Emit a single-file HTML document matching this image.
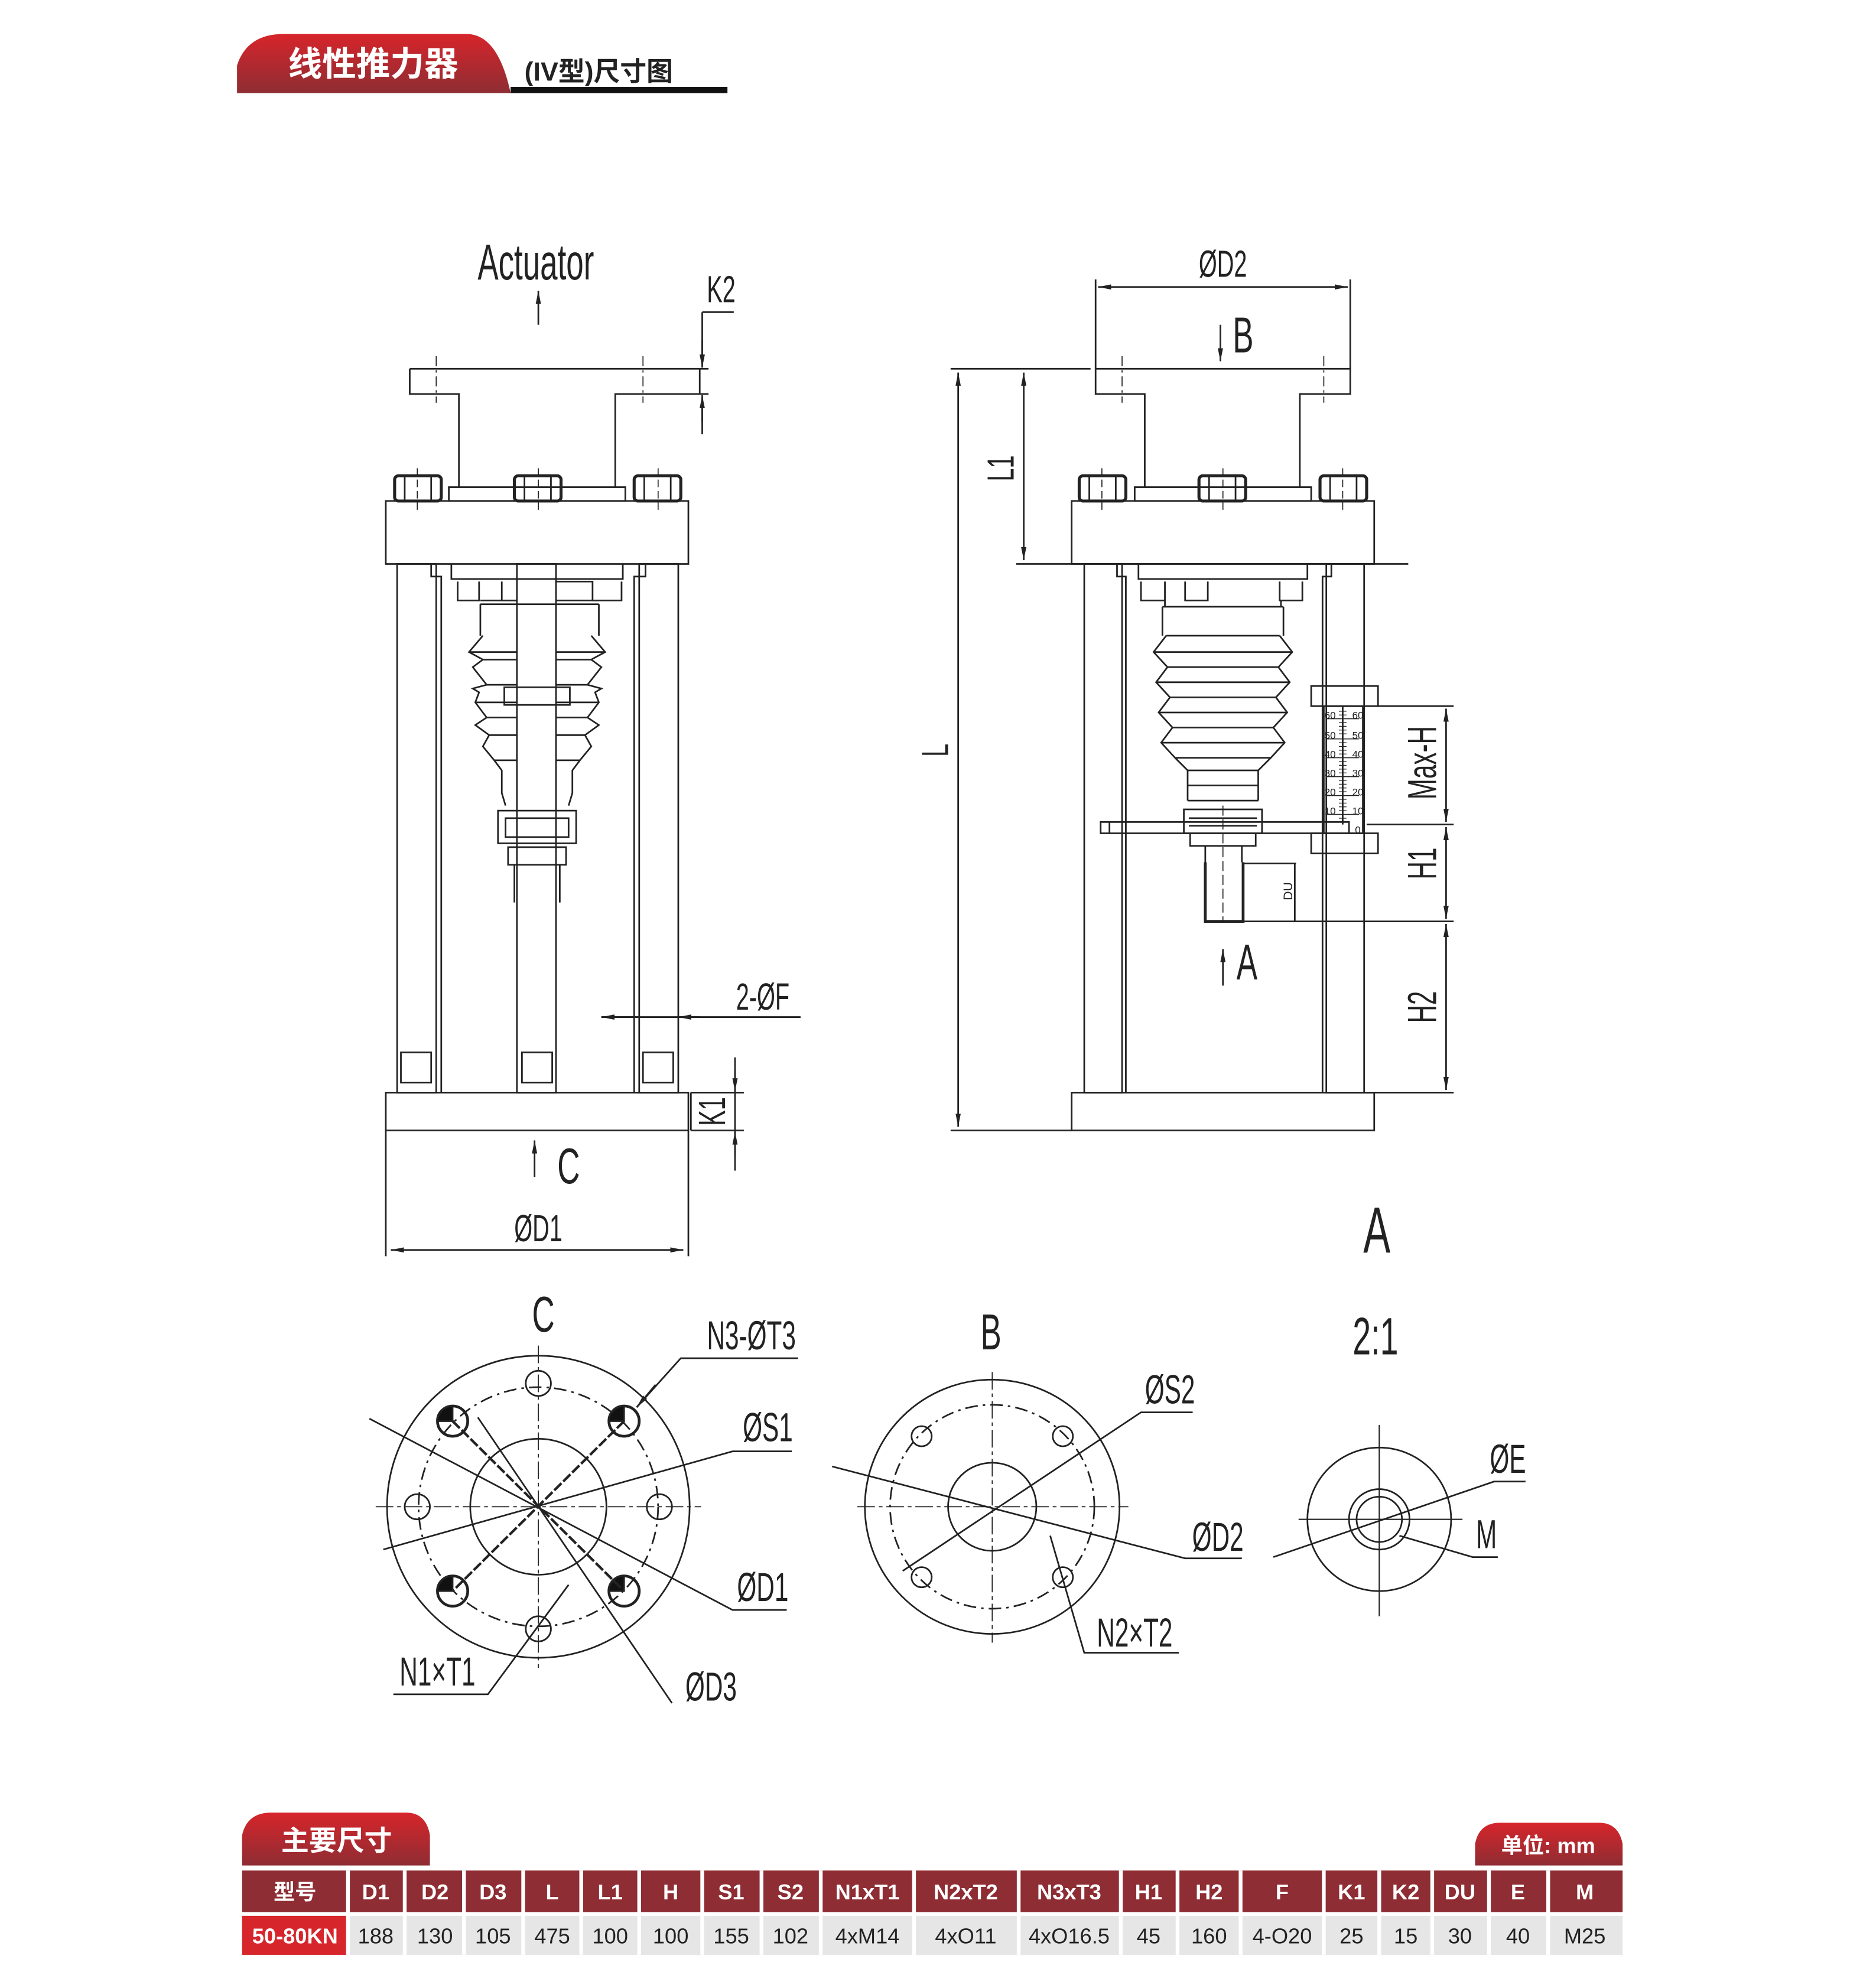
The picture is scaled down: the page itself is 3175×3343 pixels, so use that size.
<!DOCTYPE html>
<html><head><meta charset="utf-8"><style>
html,body{margin:0;padding:0;background:#fff;}
svg{display:block}
.d{font-family:"Liberation Sans Narrow","Liberation Sans",sans-serif;fill:#222;}
.n{transform-box:fill-box;transform-origin:center;transform:scaleX(.62);}
.t{font-family:"Liberation Sans","Noto Sans CJK SC",sans-serif;font-weight:bold;}
</style></head><body>
<svg width="3175" height="3343" viewBox="0 0 1488 1569" preserveAspectRatio="none" xmlns="http://www.w3.org/2000/svg">
<defs>
<linearGradient id="rg" x1="0" y1="0" x2="0" y2="1"><stop offset="0" stop-color="#d6252b"/><stop offset="1" stop-color="#8e2d33"/></linearGradient>
<marker id="ar" viewBox="0 0 10 10" refX="10" refY="5" markerWidth="8" markerHeight="8" orient="auto-start-reverse"><path d="M0,3 L10,5 L0,7z" fill="#222"/></marker>
</defs>
<!-- header -->
<path d="M188,74 L188,52 Q196,27 225,27 L370,27 Q395,27 405,74 Z" fill="url(#rg)"/>
<text x="296" y="60" class="t" font-size="27" fill="#fff" text-anchor="middle">线性推力器</text>
<text x="416" y="64" class="t" font-size="21" fill="#222">(IV型)尺寸图</text>
<rect x="405" y="69" width="172" height="5" fill="#111"/>

<g fill="none" stroke="#222" stroke-width="1.3">
<!-- LEFT FRONT VIEW -->
<path d="M325,293 H555 M325,293 V313 H364 V387 M555,313 H488 V387 M555,293 V313"/>
<path d="M346,283 V320 M510,283 V320" stroke-dasharray="8,3,2,3" stroke-width="0.8"/>
<rect x="356" y="387" width="140" height="11"/>
<rect x="306" y="398" width="240" height="50"/>
<g stroke-width="2.4">
<rect x="313" y="378" width="37" height="20" rx="3"/><rect x="408" y="378" width="37" height="20" rx="3"/><rect x="503" y="378" width="37" height="20" rx="3"/>
</g>
<path d="M321,378V398 M342,378V398 M416,378V398 M437,378V398 M511,378V398 M532,378V398"/>
<path d="M331,372V408 M427,372V408 M522,372V408" stroke-dasharray="6,3" stroke-width="0.8"/>
<rect x="315" y="448" width="31" height="420"/><rect x="507" y="448" width="31" height="420"/>
<path d="M342,448V458H350V868 M512,448V458H503V868"/>
<rect x="410" y="448" width="31" height="420"/>
<rect x="318" y="836" width="24" height="24"/><rect x="414" y="836" width="24" height="24"/><rect x="510" y="836" width="24" height="24"/>
<path d="M358,448V460H494V448 M363,462V477H380V462 M398,462V477H410 M441,462H470V477H493V462"/>
<path d="M381,477H410 M441,477H475 M381,480V505 M475,480V505 M381,480H475"/>
<path d="M383,505 L372,518 L383,524 L375,530 L386,544 L375,547 L380,550 L377,558 L386,570 L377,576 L388,584 L383,593 L392,604 L398,612 L398,630 L401,640 M469,505 L480,518 L469,524 L477,530 L466,544 L477,547 L472,550 L475,558 L466,570 L475,576 L464,584 L469,593 L460,604 L454,612 L454,630 L451,640"/>
<path d="M372,518H410 M441,518H480 M383,524H410 M441,524H469 M386,544H410 M441,544H466 M377,558H410 M441,558H475 M386,570H410 M441,570H466 M388,584H410 M441,584H464 M392,604H410 M441,604H460"/>
<rect x="400" y="546" width="52" height="14"/>
<path d="M395,644H457V670H395Z M401,650H451V665H401Z"/>
<rect x="403" y="673" width="46" height="14"/>
<path d="M408,687V717 M444,687V717"/>
<rect x="306" y="868" width="240" height="30"/>
<path d="M306,898V998 M546,898V998"/>
<line x1="310" y1="993" x2="542" y2="993" marker-start="url(#ar)" marker-end="url(#ar)"/>
<line x1="424" y1="935" x2="424" y2="906" marker-end="url(#ar)"/>
<line x1="427" y1="258" x2="427" y2="231" marker-end="url(#ar)"/>
<path d="M555,293H562 M555,313H562 M557,248H582 M557,248V290 M557,316V345"/>
<line x1="557" y1="270" x2="557" y2="292" marker-end="url(#ar)"/>
<line x1="557" y1="335" x2="557" y2="314" marker-end="url(#ar)"/>
<path d="M477,808H635"/>
<line x1="477" y1="808" x2="507" y2="808" marker-start="url(#ar)"/>
<line x1="555" y1="808" x2="538" y2="808" marker-end="url(#ar)"/>
<path d="M548,868H590 M548,898H590 M583,840V930 M548,868V898"/>
<line x1="583" y1="850" x2="583" y2="867" marker-end="url(#ar)"/>
<line x1="583" y1="918" x2="583" y2="899" marker-end="url(#ar)"/>

<!-- RIGHT SIDE VIEW -->
<path d="M869,293V222 M1071,293V222"/>
<line x1="871" y1="228" x2="1069" y2="228" marker-start="url(#ar)" marker-end="url(#ar)"/>
<line x1="968" y1="258" x2="968" y2="287" marker-end="url(#ar)"/>
<path d="M869,293H1071V313H1031V387 M869,293V313H908V387"/>
<path d="M890,283V320 M1050,283V320" stroke-dasharray="8,3,2,3" stroke-width="0.8"/>
<rect x="900" y="387" width="140" height="11"/>
<rect x="850" y="398" width="240" height="50"/>
<g stroke-width="2.4">
<rect x="856" y="378" width="37" height="20" rx="3"/><rect x="951" y="378" width="37" height="20" rx="3"/><rect x="1047" y="378" width="37" height="20" rx="3"/>
</g>
<path d="M864,378V398 M885,378V398 M959,378V398 M980,378V398 M1055,378V398 M1076,378V398"/>
<path d="M874,372V408 M970,372V408 M1065,372V408" stroke-dasharray="6,3" stroke-width="0.8"/>
<rect x="860" y="448" width="30" height="420"/><rect x="1052" y="448" width="30" height="420"/>
<path d="M886,448V458H893V868 M1056,448V458H1049V868"/>
<path d="M903,448V460H1037V448 M905,462V477H924V462 M940,462V477H958V462 M1015,462V477H1033V462 M924,477V482 M1016,477V482 M922,482H1018 M922,482V505 M1018,482V505"/>
<path d="M925,505 L915,518 L926,530 L917,542 L928,554 L919,566 L930,578 L921,590 L932,602 L942,612 L942,636 M1015,505 L1025,518 L1014,530 L1023,542 L1012,554 L1021,566 L1010,578 L1019,590 L1008,602 L998,612 L998,636"/>
<path d="M925,505H1015 M915,518H1025 M926,530H1014 M917,542H1023 M928,554H1012 M919,566H1021 M930,578H1010 M921,590H1019 M932,602H1008 M942,612H998 M942,624H998 M942,636H998"/>
<path d="M939,643H1001V662H939Z M943,650H997 M943,656H997"/>
<path d="M873,653H1070V662H873Z M880,653V662"/>
<path d="M944,662V672H996V662 M956,672V685 M985,672V685"/>
<path d="M956,685V732H986V685" stroke-width="2.2"/>
<path d="M970,640V732" stroke-dasharray="8,3" stroke-width="0.8"/>
<path d="M986,686H1028 M1027,686V732"/>
<rect x="1040" y="545" width="53" height="16"/>
<rect x="1040" y="662" width="53" height="16"/>
<rect x="1050" y="561" width="31" height="101"/>
<path d="M1065,561V655"/>
<path d="M1052,571H1078 M1052,587H1078 M1052,602H1078 M1052,617H1078 M1052,632H1078 M1052,647H1078" stroke-width="0.7"/>
<path d="M1062,565H1068 M1062,568H1068 M1062,574H1068 M1062,577H1068 M1062,580H1068 M1062,583H1068 M1062,590H1068 M1062,593H1068 M1062,596H1068 M1062,599H1068 M1062,605H1068 M1062,608H1068 M1062,611H1068 M1062,614H1068 M1062,620H1068 M1062,623H1068 M1062,626H1068 M1062,629H1068 M1062,635H1068 M1062,638H1068 M1062,641H1068 M1062,644H1068 M1062,650H1068" stroke-width="0.6"/>
<rect x="850" y="868" width="240" height="30"/>
<path d="M754,293H865 M754,898H850 M806,293H865 M806,448H1117"/>
<line x1="760" y1="296" x2="760" y2="895" marker-start="url(#ar)" marker-end="url(#ar)"/>
<line x1="812" y1="296" x2="812" y2="445" marker-start="url(#ar)" marker-end="url(#ar)"/>
<path d="M1093,561H1153 M1084,655H1153 M986,732H1153 M1082,868H1153"/>
<line x1="1147" y1="563" x2="1147" y2="653" marker-start="url(#ar)" marker-end="url(#ar)"/>
<line x1="1147" y1="657" x2="1147" y2="730" marker-start="url(#ar)" marker-end="url(#ar)"/>
<line x1="1147" y1="734" x2="1147" y2="866" marker-start="url(#ar)" marker-end="url(#ar)"/>
<line x1="970" y1="783" x2="970" y2="754" marker-end="url(#ar)"/>

<!-- VIEW C -->
<circle cx="427" cy="1197" r="120"/>
<circle cx="427" cy="1197" r="95" stroke-dasharray="10,4,2,4"/>
<circle cx="427" cy="1197" r="54"/>
<path d="M298,1197H556 M427,1069V1325" stroke-dasharray="14,3,3,3" stroke-width="0.8"/>
<circle cx="427" cy="1099" r="10"/><circle cx="427" cy="1294" r="10"/><circle cx="331" cy="1197" r="10"/><circle cx="523" cy="1197" r="10"/>
<g stroke-width="2.2">
<circle cx="359" cy="1129" r="12"/><circle cx="495" cy="1129" r="12"/><circle cx="359" cy="1264" r="12"/><circle cx="495" cy="1264" r="12"/>
</g>
<path d="M359,1129V1117A12,12 0 0,0 347,1129Z M495,1129V1117A12,12 0 0,0 483,1129Z M359,1264V1252A12,12 0 0,0 347,1264Z M495,1264V1252A12,12 0 0,0 483,1264Z" fill="#111"/>
<path d="M359,1129L495,1264 M495,1129L359,1264" stroke-width="2" stroke-dasharray="8,2"/>
<path d="M633,1079H540 L505,1118 M628,1153H581 L304,1231 M624,1279H581 L293,1127 M533,1353L379,1126 M312,1346H387 L451,1259"/>
<line x1="520" y1="1100" x2="505" y2="1118" marker-end="url(#ar)"/>
<!-- VIEW B -->
<circle cx="787" cy="1197" r="101"/>
<circle cx="787" cy="1197" r="81" stroke-dasharray="10,4,2,4"/>
<circle cx="787" cy="1197" r="35"/>
<path d="M680,1197H895 M787,1090V1305" stroke-dasharray="14,3,3,3" stroke-width="0.8"/>
<circle cx="731" cy="1141" r="8"/><circle cx="843" cy="1141" r="8"/><circle cx="731" cy="1253" r="8"/><circle cx="843" cy="1253" r="8"/>
<path d="M660,1165L940,1238H985 M716,1248L905,1122H946 M833,1220L860,1313H935"/>
<!-- VIEW A -->
<circle cx="1094" cy="1207" r="57"/>
<circle cx="1094" cy="1207" r="24"/>
<circle cx="1094" cy="1207" r="18"/>
<path d="M1030,1207H1160 M1094,1132V1284" stroke-width="1"/>
<path d="M1010,1237L1185,1177H1210 M1110,1220L1168,1237H1188"/>
</g>

<!-- drawing text -->
<g class="d">
<text class="n" x="425" y="222" font-size="40" text-anchor="middle">Actuator</text>
<text class="n" x="572" y="240" font-size="30" text-anchor="middle">K2</text>
<text class="n" x="605" y="802" font-size="30" text-anchor="middle">2-ØF</text>
<text class="n" x="451" y="940" font-size="40" text-anchor="middle">C</text>
<text class="n" x="427" y="986" font-size="30" text-anchor="middle">ØD1</text>
<g transform="translate(575,883) rotate(-90)"><text class="n" font-size="30" text-anchor="middle">K1</text></g>
<text class="n" x="970" y="220" font-size="30" text-anchor="middle">ØD2</text>
<text class="n" x="986" y="280" font-size="40" text-anchor="middle">B</text>
<g transform="translate(752,596) rotate(-90)"><text class="n" font-size="30" text-anchor="middle">L</text></g>
<g transform="translate(804,372) rotate(-90)"><text class="n" font-size="30" text-anchor="middle">L1</text></g>
<g transform="translate(1139,606) rotate(-90)"><text class="n" font-size="32" text-anchor="middle">Max-H</text></g>
<g transform="translate(1139,686) rotate(-90)"><text class="n" font-size="32" text-anchor="middle">H1</text></g>
<g transform="translate(1139,800) rotate(-90)"><text class="n" font-size="32" text-anchor="middle">H2</text></g>
<g transform="translate(1025,708) rotate(-90)"><text font-size="10" text-anchor="middle">DU</text></g>
<g font-size="8" text-anchor="middle">
<text x="1055" y="571">60</text><text x="1055" y="587">50</text><text x="1055" y="602">40</text><text x="1055" y="617">30</text><text x="1055" y="632">20</text><text x="1055" y="647">10</text>
<text x="1077" y="571">60</text><text x="1077" y="587">50</text><text x="1077" y="602">40</text><text x="1077" y="617">30</text><text x="1077" y="632">20</text><text x="1077" y="647">10</text><text x="1077" y="662">0</text>
</g>
<text class="n" x="989" y="778" font-size="40" text-anchor="middle">A</text>
<text class="n" x="1092" y="995" font-size="52" text-anchor="middle">A</text>
<text class="n" x="431" y="1058" font-size="40" text-anchor="middle">C</text>
<text class="n" x="596" y="1072" font-size="32" text-anchor="middle">N3-ØT3</text>
<text class="n" x="609" y="1145" font-size="32" text-anchor="middle">ØS1</text>
<text class="n" x="605" y="1272" font-size="32" text-anchor="middle">ØD1</text>
<text class="n" x="564" y="1351" font-size="32" text-anchor="middle">ØD3</text>
<text class="n" x="347" y="1339" font-size="32" text-anchor="middle">N1×T1</text>
<text class="n" x="786" y="1072" font-size="40" text-anchor="middle">B</text>
<text class="n" x="928" y="1115" font-size="32" text-anchor="middle">ØS2</text>
<text class="n" x="966" y="1232" font-size="32" text-anchor="middle">ØD2</text>
<text class="n" x="900" y="1308" font-size="32" text-anchor="middle">N2×T2</text>
<text class="n" x="1091" y="1076" font-size="42" text-anchor="middle">2:1</text>
<text class="n" x="1196" y="1170" font-size="32" text-anchor="middle">ØE</text>
<text class="n" x="1179" y="1230" font-size="32" text-anchor="middle">M</text>
</g>

<!-- table -->
<path d="M192,1482V1458Q196,1440 215,1440H322Q338,1440 341,1458V1482Z" fill="url(#rg)"/>
<text x="267" y="1470" class="t" font-size="22" fill="#fff" text-anchor="middle">主要尺寸</text>
<path d="M1170,1482V1465Q1173,1448 1190,1448H1268Q1284,1448 1287,1465V1482Z" fill="url(#rg)"/>
<text x="1228" y="1472" class="t" font-size="17" fill="#fff" text-anchor="middle">单位: mm</text>
<g class="t" font-size="17" text-anchor="middle">
<rect x="192" y="1486" width="1095" height="33" fill="#8e2d33"/>
<rect x="192" y="1522" width="1095" height="31" fill="#e6e6e6"/>
<rect x="192" y="1522" width="84" height="31" fill="#d6252b"/>
<g stroke="#fff" stroke-width="3">
<path d="M276,1486V1553 M321,1486V1553 M368,1486V1553 M415,1486V1553 M461,1486V1553 M507,1486V1553 M557,1486V1553 M604,1486V1553 M651,1486V1553 M725,1486V1553 M808,1486V1553 M889,1486V1553 M934,1486V1553 M984,1486V1553 M1050,1486V1553 M1094,1486V1553 M1136,1486V1553 M1181,1486V1553 M1228,1486V1553"/>
</g>
<g fill="#fff">
<text x="234" y="1509">型号</text><text x="298" y="1509">D1</text><text x="345" y="1509">D2</text><text x="391" y="1509">D3</text><text x="438" y="1509">L</text><text x="484" y="1509">L1</text><text x="532" y="1509">H</text><text x="580" y="1509">S1</text><text x="627" y="1509">S2</text><text x="688" y="1509">N1xT1</text><text x="766" y="1509">N2xT2</text><text x="848" y="1509">N3xT3</text><text x="911" y="1509">H1</text><text x="959" y="1509">H2</text><text x="1017" y="1509">F</text><text x="1072" y="1509">K1</text><text x="1115" y="1509">K2</text><text x="1158" y="1509">DU</text><text x="1204" y="1509">E</text><text x="1257" y="1509">M</text>
<text x="234" y="1544">50-80KN</text>
</g>
<g fill="#222" font-weight="normal">
<text x="298" y="1544">188</text><text x="345" y="1544">130</text><text x="391" y="1544">105</text><text x="438" y="1544">475</text><text x="484" y="1544">100</text><text x="532" y="1544">100</text><text x="580" y="1544">155</text><text x="627" y="1544">102</text><text x="688" y="1544">4xM14</text><text x="766" y="1544">4xO11</text><text x="848" y="1544">4xO16.5</text><text x="911" y="1544">45</text><text x="959" y="1544">160</text><text x="1017" y="1544">4-O20</text><text x="1072" y="1544">25</text><text x="1115" y="1544">15</text><text x="1158" y="1544">30</text><text x="1204" y="1544">40</text><text x="1257" y="1544">M25</text>
</g>
</g>
</svg>
</body></html>
